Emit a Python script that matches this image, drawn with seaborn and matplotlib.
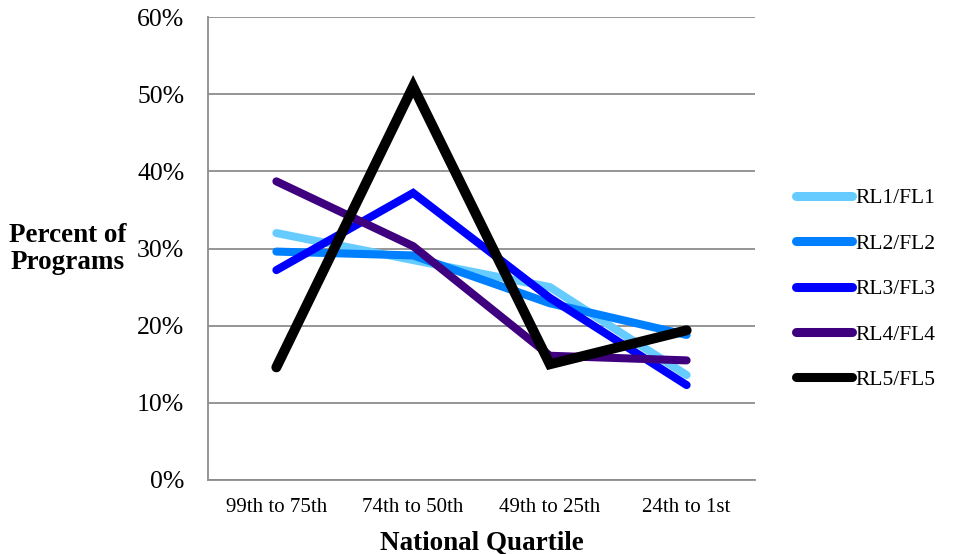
import matplotlib
matplotlib.use("Agg")
import matplotlib.pyplot as plt
import seaborn as sns
import pandas as pd
import numpy as np
from matplotlib.ticker import FixedLocator, PercentFormatter, NullFormatter
from matplotlib.lines import Line2D

categories = ["99th to 75th", "74th to 50th", "49th to 25th", "24th to 1st"]
series_names = ["RL1/FL1", "RL2/FL2", "RL3/FL3", "RL4/FL4", "RL5/FL5"]
rl1 = [32.0, 28.5, 25.0, 13.6]
rl2 = [29.6, 29.1, 22.9, 18.8]
rl3 = [27.2, 37.2, 23.6, 12.3]
rl4 = [38.7, 30.3, 16.1, 15.5]
rl5 = [14.6, 51.0, 15.0, 19.4]
y_ticks = [0, 10, 20, 30, 40, 50, 60]
colors = ["#66CCFF", "#0080FF", "#0000FF", "#3F007F", "#000000"]

rows = []
for name, vals in zip(series_names, [rl1, rl2, rl3, rl4, rl5]):
    for i, (c, v) in enumerate(zip(categories, vals)):
        rows.append({"Series": name, "pos": i, "Quartile": c, "Value": v})
df = pd.DataFrame(rows)

sns.set_style("white")
plt.rcParams["font.family"] = ["Liberation Serif", "DejaVu Serif"]
plt.rcParams["text.color"] = "black"
plt.rcParams["axes.labelcolor"] = "black"
plt.rcParams["xtick.labelcolor"] = "black"
plt.rcParams["ytick.labelcolor"] = "black"

fig = plt.figure(figsize=(9.55, 5.54), dpi=100)
ax = fig.add_axes([208/955, 74/554, (755-208)/955, (480-17)/554])

sns.lineplot(data=df, x="pos", y="Value", hue="Series", palette=colors,
             hue_order=series_names, ax=ax, legend=False, sort=False)

widths = [5.8, 5.8, 5.8, 5.8, 7.2]
for line, w in zip(ax.get_lines(), widths):
    line.set_linewidth(w)
    line.set_solid_capstyle("round")
    line.set_solid_joinstyle("miter")

ax.set_xlim(-0.5, 3.5)
ax.set_ylim(0, 60)
ax.yaxis.set_major_locator(FixedLocator(y_ticks))
ax.yaxis.set_major_formatter(PercentFormatter(decimals=0))
ax.grid(axis="y", color="#8c8c8c", linewidth=1.3)
ax.set_axisbelow(True)

ax.xaxis.set_major_locator(FixedLocator(np.arange(-0.5, 4.0, 1.0)))
ax.xaxis.set_major_formatter(NullFormatter())
ax.set_xticks(np.arange(0, 4), labels=categories, minor=True)
ax.tick_params(axis="x", which="minor", length=0, pad=13, labelsize=15, labelcolor="black")
ax.tick_params(axis="x", which="major", length=4.5, width=1.3, color="#8c8c8c", direction="out")
ax.tick_params(axis="y", length=5, width=1.3, color="#8c8c8c", direction="out", labelsize=18.5,
               pad=12, labelcolor="black")

for s in ["top", "right"]:
    ax.spines[s].set_visible(False)
for s in ["left", "bottom"]:
    ax.spines[s].set_color("#8c8c8c")
    ax.spines[s].set_linewidth(1.3)

ax.set_xlabel("National Quartile", fontsize=19.5, fontweight="bold", labelpad=10, color="black")
ax.set_ylabel("Percent of\nPrograms", fontsize=19.5, fontweight="bold", rotation=0,
              ha="center", va="center", linespacing=1.12, color="black")
ax.yaxis.set_label_coords((68-208)/547, (480-249)/463)

handles = [Line2D([0], [0], color=c, lw=6.5, solid_capstyle="round") for c in colors]
leg = ax.legend(handles, series_names, loc="center left", bbox_to_anchor=(1.06, (480-289)/463),
                frameon=False, fontsize=15.5, handlelength=2.6, handletextpad=0.15,
                labelspacing=1.18, borderaxespad=0, labelcolor="black")

fig.savefig("out.png", dpi=100, facecolor="white")
